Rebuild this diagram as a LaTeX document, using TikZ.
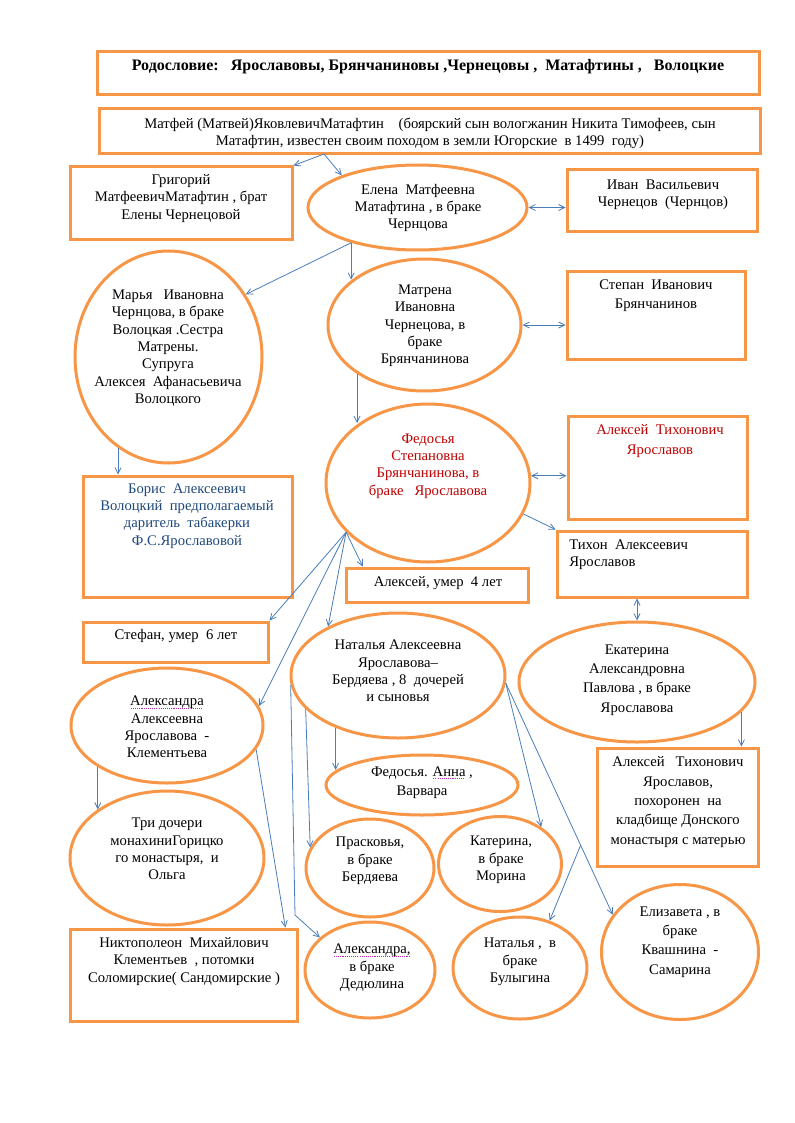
\documentclass[tikz,border=0pt]{standalone}
\usepackage{fontspec}
\setmainfont{Liberation Serif}
\usetikzlibrary{positioning,arrows.meta,calc,shapes.geometric}
\definecolor{frame}{RGB}{247,150,70}
\definecolor{linkblue}{RGB}{74,126,187}
\definecolor{darkred}{RGB}{192,0,0}
\definecolor{navy}{RGB}{31,73,125}
\definecolor{spellred}{RGB}{190,40,190}
% dotted spell-check underline
\newcommand\spellmark[1]{\setbox0\hbox{#1}\rlap{\textcolor{spellred}{\raisebox{-2.4pt}{\hbox to \wd0{\leaders\hbox to 1.6pt{\hss\vrule width 0.8pt height 0.6pt\hss}\hfill}}}}#1}

\begin{document}
\begin{tikzpicture}[x=0.75pt,y=-0.75pt,
  >={Straight Barb[length=4.5pt,width=4.5pt]},
  box/.style={draw=frame,line width=2.25pt,fill=white,inner sep=0pt},
  oval/.style={box,ellipse},
  txt/.style={align=center,inner sep=0pt,font=\fontsize{11pt}{13pt}\selectfont},
  txtw/.style={txt,font=\fontsize{11pt}{14.6pt}\selectfont},
  arr/.style={draw=linkblue,line width=0.6pt,->}]
\useasboundingbox[fill=white] (0,0) rectangle (794,1123);
% boxes: name/x/y/width/height (px)
\foreach \n/\x/\y/\w/\h in {title/428/73.5/662/43,matfey/429.5/131.5/661/45,
  grigoriy/181/203/222/72,ivan/662/201/190/62,stepan/656/315/178/88,
  alekseyr/657.5/467.5/179/103,tikhon/652/564/190/66,boris/187.5/536.5/209/121,
  alekseyum/437/585/182/34,stefan/175.5/642/185/40,alekseyb/677.5/807/161/118,
  niktopoleon/183.5/975/227/92}{
  \node[box,minimum width=\w*0.75pt,minimum height=\h*0.75pt] (\n) at (\x,\y) {};
}
% ellipses
\foreach \n/\x/\y/\w/\h in {elena/417.5/207.5/219/85,marya/168.5/357/187/212,
  matrena/424.5/325/193/132,fedosya/428/483/204/158,natalya/398/675.5/214/125,
  ekaterina/637/682/236/120,aleksandra/167/725.5/192/115,fedanna/422/785/192/60,
  tri/167/858/194/134,praskovya/370/868/128/98,katerina/500/864/123/95,
  elizaveta/680/952/157/135,aleksandrad/370/970/130/96,natalyab/520/968/134/102}{
  \node[oval,minimum width=\w*0.75pt,minimum height=\h*0.75pt] (\n) at (\x,\y) {};
}
% texts
\node[txt,font=\fontsize{12pt}{14pt}\selectfont\bfseries] (title-t) at (428,67)
  {Родословие:\ \ \ Ярославовы, Брянчаниновы ,Чернецовы ,\ \ Матафтины ,\ \ \ Волоцкие};
\node[txt] (matfey-t) at (430,133.5) {Матфей (Матвей)ЯковлевичМатафтин\ \ \ \ (боярский сын вологжанин Никита Тимофеев, сын\\
  Матафтин, известен своим походом в земли Югорские\ \ в 1499\ \ году)};
\node[txt] (grigoriy-t) at (181,198.5) {Григорий\\МатфеевичМатафтин , брат\\Елены Чернецовой};
\node[txt] (elena-t) at (418,208) {Елена\ \ Матфеевна\\Матафтина , в браке\\Чернцова};
\node[txt] (ivan-t) at (663,194.5) {Иван\ \ Васильевич\\Чернецов\ \ (Чернцов)};
\node[txt] (marya-t) at (168,348) {Марья\ \ \ Ивановна\\Чернцова, в браке\\Волоцкая .Сестра\\
  Матрены.\\Супруга\\Алексея\ \ Афанасьевича\\Волоцкого};
\node[txt] (matrena-t) at (425,326) {Матрена\\Ивановна\\Чернецова, в\\браке\\Брянчанинова};
\node[txtw] (stepan-t) at (656,295.5) {Степан\ \ Иванович\\Брянчанинов};
\node[txt,text=darkred] (fedosya-t) at (428,466) {Федосья\\Степановна\\Брянчанинова, в\\браке\ \ \ Ярославова};
\node[txtw,text=darkred] (alekseyr-t) at (660,441) {Алексей\ \ Тихонович\\Ярославов};
\node[txt,text=navy] (boris-t) at (187,516) {Борис\ \ Алексеевич\\Волоцкий\ \ предполагаемый\\
  даритель\ \ табакерки\\Ф.С.Ярославовой};
\node[txt,align=left,anchor=west] (tikhon-t) at (569,554.5) {Тихон\ \ Алексеевич\\Ярославов};
\node[txt] (alekseyum-t) at (438,583) {Алексей, умер\ \ 4 лет};
\node[txt] (stefan-t) at (176,636) {Стефан, умер\ \ 6 лет};
\node[txt] (natalya-t) at (398,671) {Наталья Алексеевна\\Ярославова–\\Бердяева , 8\ \ дочерей\\и сыновья};
\node[txtw] (ekaterina-t) at (637,680) {Екатерина\\Александровна\\Павлова , в браке\\Ярославова};
\node[txt] (aleksandra-t) at (167,727) {\spellmark{Александра}\\Алексеевна\\Ярославова\ \ -\\Клементьева};
\node[txtw] (alekseyb-t) at (678,802) {Алексей\ \ \ Тихонович\\Ярославов,\\похоронен\ \ на\\
  кладбище Донского\\монастыря с матерью};
\node[txtw] (fedanna-t) at (422,782.5) {Федосья. \spellmark{Анна} ,\\Варвара};
\node[txt] (tri-t) at (167,849) {Три дочери\\монахиниГорицко\\го монастыря,\ \ и\\Ольга};
\node[txt] (praskovya-t) at (370,861) {Прасковья,\\в браке\\Бердяева};
\node[txt] (katerina-t) at (501,860) {Катерина,\\в браке\\Морина};
\node[txtw] (elizaveta-t) at (680,942) {Елизавета , в\\браке\\Квашнина\ \ -\\Самарина};
\node[txt] (niktopoleon-t) at (184,961.5) {Никтополеон\ \ Михайлович\\Клементьев\ \ , потомки\\
  Соломирские( Сандомирские )};
\node[txt] (aleksandrad-t) at (372,968) {\spellmark{Александра,}\\в браке\\Дедюлина};
\node[txt] (natalyab-t) at (520,962) {Наталья ,\ \ в\\браке\\Булыгина};
% connectors, top part
\coordinate (mfd) at (324,154);
\draw[arr] (mfd) -- (grigoriy.north east);
\draw[arr] (mfd) -- (elena.157);
\draw[arr,<->] (elena.east) -- (elena.east -| ivan.west);
\coordinate (eld) at (elena.208);
\draw[arr] (eld) -- (marya.39);
\draw[arr] (eld) -- (eld |- matrena.148);
\draw[arr,<->] (matrena.east) -- (matrena.east -| stepan.west);
\draw[arr] (matrena.216) -- (matrena.216 |- fedosya.139);
\draw[arr] (marya.241) -- (marya.241 |- boris.north);
\draw[arr,<->] (fedosya.4) -- (fedosya.4 -| alekseyr.west);
\draw[arr] (fedosya.342) -- (tikhon.north west);
% Fedosya's children
\coordinate (fdo) at (fedosya.211);
\draw[arr] (fdo) -- (alekseyum.166);
\draw[arr] (fdo) -- (stefan.north east);
\draw[arr] (fdo) -- (natalya.145);
\draw[arr] (fdo) -- (aleksandra.12);
\draw[arr,<->] (tikhon.south -| ekaterina.north) -- (ekaterina.north);
\draw[arr] (ekaterina.344) -- (ekaterina.344 |- alekseyb.north);
% Natalya's children
\draw[arr] (natalya.220) -- (natalya.220 |- fedanna.170);
\coordinate (nbend) at (295,915);
\draw[arr] (natalya.185) -- (nbend) -- (aleksandrad.147);
\draw[arr] (natalya.200) -- (praskovya.161);
\draw[arr] (natalya.356) -- (katerina.42);
\draw[arr] (natalya.356) -- (elizaveta.151);
\coordinate (nbr) at ($(natalya.356)!0.7!(elizaveta.151)$);
\draw[arr] (nbr) -- (natalyab.58);
% Aleksandra's
\draw[arr] (aleksandra.345) -- (niktopoleon.25);
\draw[arr] (aleksandra.211) -- (aleksandra.211 |- tri.145);
\end{tikzpicture}
\end{document}
